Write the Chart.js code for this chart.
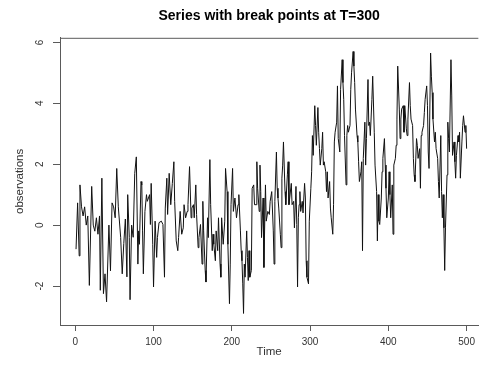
<!DOCTYPE html>
<html>
<head>
<meta charset="utf-8">
<script src="https://cdn.jsdelivr.net/npm/chart.js@4"></script>
<style>
  body { margin: 0; background: #fff; }
</style>
</head>
<body>
<canvas id="myChart" width="480" height="365"></canvas>
<script>
const times = [
  1,3,5,6,8,10,12,14,16,18,21,23,25,27,29,31,32,34,36,38,40,43,45,47,49,51,53,55,58,60,62,64,66,67,69,70,72,74,76,78,
  80,81,82,84,85,86,87,89,91,92,95,96,97,99,100,102,104,105,107,110,112,114,115,117,118,120,122,124,126,127,129,131,132,134,136,138,139,141,143,144,146,148,149,151,152,154,155,157,158,160,162,163,164,166,167,169,170,172,
  173,175,176,177,179,180,182,183,185,186,187,189,191,192,194,195,197,198,199,201,202,204,206,208,209,211,212,213,214,215,216,217,219,220,221,222,223,225,226,228,229,231,232,233,235,236,237,238,240,241,243,244,246,248,249,251,253,254,255,257,258,259,260,262,263,264,265,266,268,269,271,272,
  273,274,276,277,279,280,282,283,284,285,286,287,288,290,291,293,294,295,296,298,299,301,302,303,304,306,307,308,310,311,312,313,315,316,317,318,320,321,322,323,325,326,327,329,330,331,332,334,335,336,338,339,341,342,343,344,346,347,348,349,351,352,353,355,356,357,358,360,361,362,363,365,366,367,368,
  370,371,372,374,375,376,377,379,380,382,383,385,386,387,388,389,391,392,393,395,396,397,398,400,401,402,403,405,406,407,409,410,411,412,414,415,416,417,419,420,421,423,424,425,427,428,429,431,432,433,434,436,437,438,440,441,442,443,445,446,447,449,450,451,452,454,455,456,457,459,460,461,463,464,
  465,467,468,469,470,471,472,473,475,476,477,478,480,481,482,484,485,486,487,489,490,491,492,494,495,496,498,499,500
];
const observations = [
  -0.79,0.73,-1.01,1.32,0.6,0.3,0.6,0.0,0.3,-1.98,1.27,0.0,-0.2,0.24,-0.3,0.3,-2.14,1.54,-2.25,-1.6,-2.52,0.0,-1.5,0.73,0.6,0.24,1.86,0.6,-0.4,-1.6,-0.6,0.2,-1.7,1.0,-0.4,-2.45,0.0,-0.4,1.7,2.24,
  -1.28,-0.19,-0.63,1.43,1.32,-0.19,-1.6,0.45,1.0,0.78,1.0,0.02,1.37,-0.63,-2.03,0.13,-1.06,-0.41,0.08,0.13,0.02,-1.71,0.56,1.54,0.35,1.7,0.67,1.37,2.08,0.78,-0.52,-0.84,-0.41,0.45,-0.3,-0.09,0.67,0.24,0.45,0.67,1.92,0.24,0.56,0.67,0.24,1.32,0.35,-0.74,-0.41,0.02,-1.28,0.78,-0.19,-1.49,-1.87,0.24,-0.41,2.15,
  0.67,-0.84,-0.3,-0.63,-1.17,-0.19,-0.84,0.24,-1.28,-1.71,0.24,-0.63,0.13,1.86,1.1,-0.63,-2.58,-1.28,0.67,1.86,0.45,0.89,0.24,0.67,1.0,-0.19,-0.84,-1.17,-1.93,-2.9,-1.28,-1.71,-0.19,-1.06,-1.82,-0.84,-1.71,-1.49,1.21,1.32,0.67,0.67,2.08,1.21,0.45,1.97,1.1,-0.41,0.89,-1.39,1.32,0.13,0.45,0.35,0.78,1.1,-0.19,-1.28,0.78,2.4,1.21,0.89,0.56,-0.3,-0.74,1.54,1.97,2.73,1.1,0.67,1.65,2.08,
  0.67,0.89,1.37,0.67,0.78,-0.09,1.27,0.02,-2.03,0.24,0.67,1.1,0.45,0.78,0.4,1.37,0.89,-1.17,-1.71,-1.93,0.13,1.21,1.75,2.94,2.29,3.92,3.27,2.62,3.86,3.05,2.51,1.97,2.51,3.05,1.97,2.08,1.75,1.1,1.75,0.89,1.43,0.56,0.24,-0.3,0.67,2.73,3.05,3.38,4.57,2.84,2.4,4.46,5.43,4.68,4.13,2.94,1.32,2.94,3.27,3.05,3.27,4.46,5.0,5.7,5.22,4.68,3.81,2.94,2.73,2.08,1.43,1.75,2.08,-0.84,2.19,
  3.38,1.97,2.84,4.78,3.27,3.38,2.94,4.13,4.89,3.05,1.97,1.1,-0.52,1.0,0.13,0.02,0.89,1.75,2.19,2.84,1.97,1.21,0.24,0.89,1.75,1.0,0.24,1.32,-0.3,1.97,2.19,2.62,3.48,5.22,3.81,2.84,3.48,3.81,3.92,3.05,3.92,3.16,2.94,3.48,4.68,3.92,3.48,3.27,2.19,1.65,1.43,2.84,2.62,2.19,2.51,1.21,2.94,3.05,3.27,3.7,4.13,4.57,3.92,2.4,1.86,5.65,4.89,4.35,3.48,2.73,3.05,2.51,2.19,1.43,
  0.89,2.94,1.1,0.24,1.0,-0.09,-1.49,-0.09,1.65,3.38,2.84,2.4,5.43,4.24,2.29,2.73,2.08,1.54,2.29,2.94,2.73,3.05,1.54,2.73,3.27,3.59,3.05,3.27,2.51
];
const timeTicks = [0, 100, 200, 300, 400, 500];
const obsTicks = [-2, 0, 2, 4, 6];

const axisColor = '#5a5a5a';
const textColor = '#333';

// R draws a box round the plot; only the top edge needs adding
const boxTop = {
  id: 'boxTop',
  afterDraw(chart) {
    const { ctx, chartArea } = chart;
    ctx.save();
    ctx.strokeStyle = axisColor;
    ctx.lineWidth = 1;
    ctx.beginPath();
    ctx.moveTo(chartArea.left, chartArea.top + 0.5);
    ctx.lineTo(chartArea.right, chartArea.top + 0.5);
    ctx.stroke();
    ctx.restore();
  }
};

const ctx = document.getElementById('myChart');

new Chart(ctx, {
  type: 'line',
  data: {
    datasets: [{
      data: times.map((t, i) => ({ x: t, y: observations[i] })),
      borderColor: '#111',
      borderWidth: 1,
      pointRadius: 0,
      tension: 0,
      fill: false
    }]
  },
  options: {
    responsive: false,
    animation: false,
    layout: { padding: 0 },
    plugins: {
      legend: { display: false },
      tooltip: { enabled: false },
      title: {
        display: true,
        text: 'Series with break points at T=300',
        fullSize: false,
        color: '#000',
        font: { family: 'Liberation Sans, Arial, sans-serif', size: 14, weight: 'bold' },
        padding: { top: 8, bottom: 13 }
      }
    },
    scales: {
      x: {
        type: 'linear',
        min: -19.5,
        max: 515,
        afterBuildTicks: s => { s.ticks = timeTicks.map(v => ({ value: v })); },
        afterFit: s => { s.height = 40; },
        border: { display: true, color: axisColor, width: 1 },
        grid: { drawOnChartArea: false, drawTicks: true, tickLength: 6, color: axisColor },
        ticks: {
          color: textColor,
          padding: 5,
          maxRotation: 0,
          font: { family: 'Liberation Sans, Arial, sans-serif', size: 10 }
        },
        title: {
          display: true,
          text: 'Time',
          color: textColor,
          font: { family: 'Liberation Sans, Arial, sans-serif', size: 11.5 },
          padding: { top: 0, bottom: 6 }
        }
      },
      y: {
        min: -3.28,
        max: 6.15,
        afterBuildTicks: s => { s.ticks = obsTicks.map(v => ({ value: v })); },
        afterFit: s => { s.width = 60; },
        border: { display: true, color: axisColor, width: 1 },
        grid: { drawOnChartArea: false, drawTicks: true, tickLength: 7, color: axisColor },
        ticks: {
          color: textColor,
          padding: 8,
          minRotation: 90,
          maxRotation: 90,
          crossAlign: 'center',
          font: { family: 'Liberation Sans, Arial, sans-serif', size: 10 }
        },
        title: {
          display: true,
          text: 'observations',
          color: textColor,
          font: { family: 'Liberation Sans, Arial, sans-serif', size: 11.5 },
          padding: { top: 13, bottom: 0 }
        }
      }
    }
  },
  plugins: [boxTop]
});
</script>
</body>
</html>
